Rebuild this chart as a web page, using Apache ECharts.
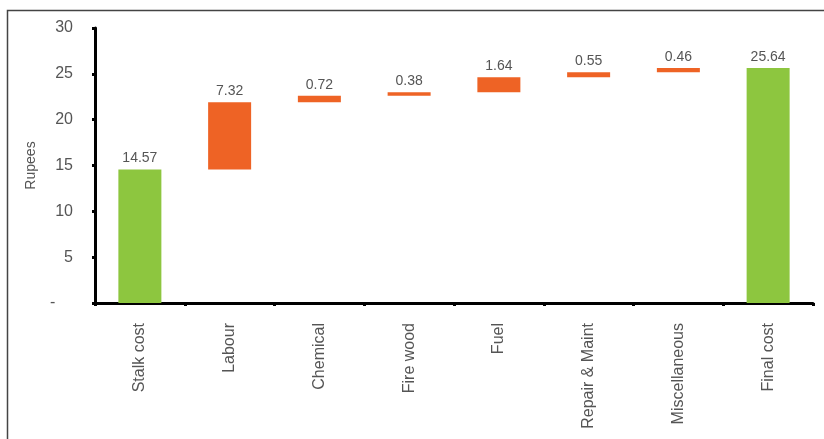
<!DOCTYPE html>
<html>
<head>
<meta charset="utf-8">
<script src="https://cdn.jsdelivr.net/npm/echarts@6/dist/echarts.min.js"></script>
<style>
  html, body { margin: 0; padding: 0; background: #fff; }
  #chart { width: 824px; height: 439px; }
</style>
</head>
<body>
<div id="chart"></div>
<script>
// Cost build-up per unit (Rupees)
const categories = ['Stalk cost', 'Labour', 'Chemical', 'Fire wood', 'Fuel', 'Repair & Maint', 'Miscellaneous', 'Final cost'];
const amounts = [14.57, 7.32, 0.72, 0.38, 1.64, 0.55, 0.46, 25.64];
const isTotal = [true, false, false, false, false, false, false, true];
const yTicks = [0, 5, 10, 15, 20, 25, 30];

// Invisible offsets so each increment floats on the running total
const offsets = [];
let running = 0;
amounts.forEach((v, i) => {
  if (isTotal[i]) {
    offsets.push(0);
    running = v;
  } else {
    offsets.push(+running.toFixed(2));
    running += v;
  }
});

const GREEN = '#8DC63F';
const ORANGE = '#EE6325';
const TEXT = '#555555';

const chart = echarts.init(document.getElementById('chart'));
chart.setOption({
  animation: false,
  textStyle: { fontFamily: 'Liberation Sans, Arial, sans-serif' },
  grid: { left: 95, right: 11, top: 28, bottom: 136, containLabel: false },
  graphic: [{
    type: 'rect',
    shape: { x: 7.5, y: 10.5, width: 900, height: 500 },
    style: { fill: 'none', stroke: '#444', lineWidth: 1.5 },
    silent: true
  }],
  xAxis: {
    type: 'category',
    data: categories,
    axisLine: { lineStyle: { color: '#000', width: 3 } },
    axisTick: { show: true, length: 3, lineStyle: { color: '#000', width: 3 } },
    axisLabel: { rotate: 90, color: TEXT, fontSize: 16, margin: 20 }
  },
  yAxis: {
    type: 'value',
    min: yTicks[0],
    max: yTicks[yTicks.length - 1],
    interval: 5,
    name: 'Rupees',
    nameLocation: 'middle',
    nameGap: 57,
    nameRotate: 90,
    nameTextStyle: { color: TEXT, fontSize: 14 },
    splitLine: { show: false },
    axisLine: { show: true, lineStyle: { color: '#000', width: 3 } },
    axisTick: { show: true, length: 3, lineStyle: { color: '#000', width: 3 } },
    axisLabel: {
      color: TEXT, fontSize: 16, margin: 22,
      formatter: v => (v === 0 ? '-    ' : String(v))
    }
  },
  series: [
    {
      type: 'bar',
      stack: 'w',
      barWidth: 43,
      silent: true,
      itemStyle: { color: 'transparent' },
      data: offsets
    },
    {
      type: 'bar',
      stack: 'w',
      barWidth: 43,
      data: amounts.map((v, i) => ({
        value: v,
        itemStyle: { color: isTotal[i] ? GREEN : ORANGE }
      })),
      label: {
        show: true,
        position: 'top',
        distance: 4,
        color: TEXT,
        fontSize: 14,
        formatter: p => p.value.toFixed(2)
      }
    }
  ]
});
</script>
</body>
</html>
